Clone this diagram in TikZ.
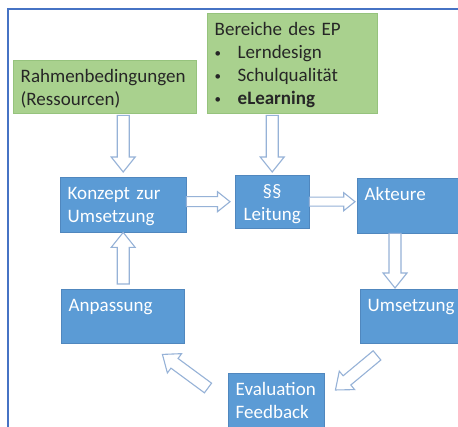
\documentclass[tikz,border=0pt]{standalone}
\usepackage{fontspec}
\setmainfont{Carlito}
\usetikzlibrary{calc}
\definecolor{boxblue}{RGB}{91,155,213}
\definecolor{boxblueline}{RGB}{80,135,190}
\definecolor{boxgreen}{RGB}{169,209,142}
\definecolor{boxgreenline}{RGB}{150,195,125}
\definecolor{framecol}{RGB}{70,115,196}
\definecolor{arrowcol}{RGB}{150,178,215}
\tikzset{
  box/.style={draw, anchor=north west, inner xsep=7.5pt, inner ysep=8pt,
    text height=14pt, text depth=25pt, align=left,
    font=\fontsize{19}{23}\selectfont},
  bluebox/.style={box, fill=boxblue, draw=boxblueline, text=white},
  greenbox/.style={box, fill=boxgreen, draw=boxgreenline, text=black!85},
  hollow/.style={draw=arrowcol, fill=white, line width=1.1pt, line join=miter},
}
\newcommand\blockarrow[3][6]{%
  \draw[hollow] let \p1=($(#3)-(#2)$), \n1={atan2(\y1,\x1)}, \n2={veclen(\x1,\y1)} in
    [shift={(#2)}, rotate=\n1]
    (0pt,#1pt) -- ({\n2-2.5*#1pt},#1pt) -- ({\n2-2.5*#1pt},{2*#1pt}) -- (\n2,0pt)
    -- ({\n2-2.5*#1pt},{-2*#1pt}) -- ({\n2-2.5*#1pt},-#1pt) -- (0pt,-#1pt) -- cycle;}
\newcommand\bul{\makebox[23pt][l]{\raisebox{1pt}{\fontsize{13}{13}\selectfont•}}}
\begin{document}
\begin{tikzpicture}[x=1pt,y=-1pt]
  \useasboundingbox (0,0) rectangle (458,427);
  \clip (0,0) rectangle (458,427);
  \draw[framecol, line width=2pt] (8,9) rectangle (480,450);

  \node[greenbox, text width=168pt, text depth=23pt] (rahmen) at (13,60)
    {Rahmenbedingungen\\(Ressourcen)};
  \node[greenbox, text width=155pt, text depth=70pt] (bereiche) at (207,13)
    {Bereiche des EP\\\bul Lerndesign\\\bul Schulqualität\\\bul\textbf{eLearning}};
  \node[bluebox, text width=111pt] (konzept) at (60,177) {Konzept zur\\Umsetzung};
  \node[bluebox, text width=59pt, text depth=23pt, align=center] (leitung) at (235,175)
    {§§\\Leitung};
  \node[bluebox, text width=105pt] (akteure) at (357,178) {Akteure};
  \node[bluebox, text width=105pt, text depth=24pt] (umsetzung) at (360,289) {Umsetzung};
  \node[bluebox, text width=108pt, text depth=24pt] (anpassung) at (61,289) {Anpassung};
  \node[bluebox, text width=81pt, text depth=30pt] (evaluation) at (228,373)
    {Evaluation\\Feedback};

  \coordinate (a1s) at ($(konzept.north |- rahmen.south)+(0,2)$);
  \coordinate (a1e) at ($(konzept.north)+(0,-5)$);
  \coordinate (a2s) at ($(leitung.north |- bereiche.south)+(0,2)$);
  \coordinate (a2e) at ($(leitung.north)+(0,-3)$);
  \coordinate (a3e) at ($(leitung.west)+(-5,0)$);
  \coordinate (a4e) at ($(akteure.west |- leitung.east)+(-2,0)$);
  \coordinate (a5s) at ($(akteure.south west)+(38,0)$);
  \coordinate (a5e) at ($(umsetzung.north west)+(35,-1)$);
  \coordinate (a6s) at ($(konzept.south |- anpassung.north)+(0,-5)$);
  \coordinate (a7s) at ($(umsetzung.south west)+(17,12)$);
  \coordinate (a7e) at ($(evaluation.north east)+(11,17)$);
  \coordinate (a8s) at ($(evaluation.north west)+(-20,15)$);
  \coordinate (a8e) at ($(anpassung.south east)+(-22,11)$);

  \blockarrow{a1s}{a1e}
  \blockarrow{a2s}{a2e}
  \blockarrow[5]{konzept.east |- leitung.west}{a3e}
  \blockarrow[4.5]{leitung.east}{a4e}
  \blockarrow{a5s}{a5e}
  \blockarrow{a6s}{konzept.south}
  \blockarrow{a7s}{a7e}
  \blockarrow{a8s}{a8e}
\end{tikzpicture}
\end{document}
